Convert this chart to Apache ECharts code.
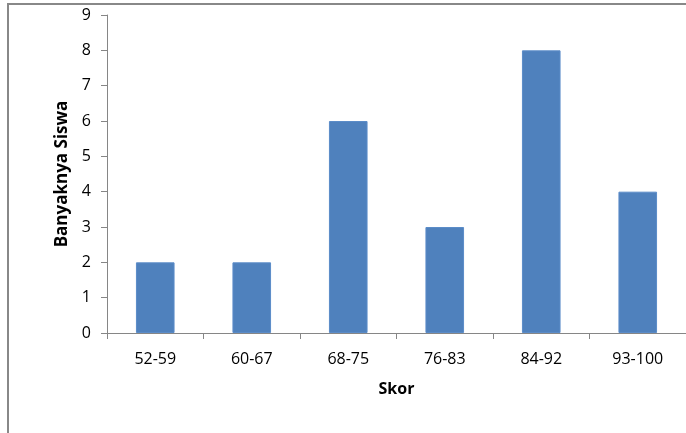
<!DOCTYPE html>
<html>
<head>
<meta charset="utf-8">
<script src="https://cdn.jsdelivr.net/npm/echarts@6/dist/echarts.min.js"></script>
<style>
  html, body { margin: 0; padding: 0; background: #fff; }
  #chart { width: 686px; height: 433px; }
</style>
</head>
<body>
<div id="chart"></div>
<script>
// Score intervals and how many students fall in each
const categories = ['52-59', '60-67', '68-75', '76-83', '84-92', '93-100'];
const studentCounts = [2, 2, 6, 3, 8, 4];
const yMin = 0;
const yMax = 9;
const yStep = 1;

const axisGray = '#868686';
const font = '"Open Sans", "Liberation Sans", sans-serif';

const chart = echarts.init(document.getElementById('chart'), null, { renderer: 'canvas' });
chart.setOption({
  animation: false,
  backgroundColor: '#ffffff',
  graphic: [{
    type: 'rect',
    shape: { x: 8, y: 4, width: 720, height: 460 },
    style: { fill: 'none', stroke: '#888888', lineWidth: 2 },
    silent: true
  }],
  // plot area runs slightly past the right edge of the frame
  grid: { left: 107, width: 582, top: 15, height: 318 },
  xAxis: {
    type: 'category',
    data: categories,
    name: 'Skor',
    nameLocation: 'middle',
    nameGap: 48,
    nameTextStyle: { fontFamily: font, fontSize: 16, fontWeight: 'bold', color: '#000' },
    axisLine: { lineStyle: { color: axisGray, width: 1 } },
    axisTick: { show: true, length: 6, lineStyle: { color: axisGray } },
    axisLabel: { fontFamily: font, fontSize: 16, color: '#000', margin: 18 },
    splitLine: { show: false }
  },
  yAxis: {
    type: 'value',
    min: yMin,
    max: yMax,
    interval: yStep,
    name: 'Banyaknya Siswa',
    nameLocation: 'middle',
    nameGap: 33,
    nameRotate: 90,
    nameTextStyle: { fontFamily: font, fontSize: 17, fontWeight: 'bold', color: '#000' },
    axisLine: { show: true, lineStyle: { color: axisGray, width: 1 } },
    axisTick: { show: true, length: 6, lineStyle: { color: axisGray } },
    axisLabel: { fontFamily: font, fontSize: 16, color: '#000', margin: 16 },
    splitLine: { show: false }
  },
  series: [{
    type: 'bar',
    data: studentCounts,
    barWidth: '40%',
    itemStyle: { color: '#4F81BD', borderColor: '#5B8CC8', borderWidth: 1 }
  }]
});
</script>
</body>
</html>
